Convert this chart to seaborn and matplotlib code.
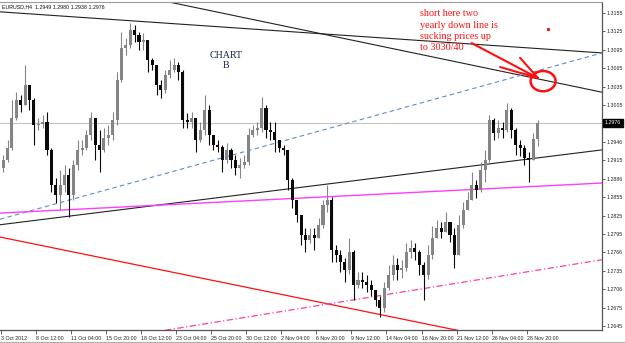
import numpy as np
import pandas as pd
import matplotlib
matplotlib.use("Agg")
import matplotlib.pyplot as plt
import matplotlib.transforms as mtransforms
from matplotlib.patches import Ellipse
from matplotlib.lines import Line2D
import seaborn as sns

# ---------------- data ----------------
header = "EURUSD,H4  1.2949 1.2980 1.2938 1.2976"
first_open = 1.2902
closes = [1.2915, 1.2935, 1.2984, 1.3013, 1.3005, 1.3038, 1.3013, 1.2972, 1.2974, 1.2977,
          1.2932, 1.2875, 1.2858, 1.2875, 1.2891, 1.2858, 1.2907, 1.2932, 1.2935, 1.2956,
          1.2984, 1.2940, 1.2932, 1.2951, 1.2956, 1.2981, 1.3046, 1.3098, 1.3103, 1.3127,
          1.3119, 1.3108, 1.3111, 1.3078, 1.3070, 1.3038, 1.3030, 1.3054, 1.3062, 1.3070,
          1.3059, 1.2981, 1.2977, 1.2984, 1.2948, 1.2964, 1.2997, 1.2956, 1.2940, 1.2936,
          1.2915, 1.2932, 1.2915, 1.2902, 1.2907, 1.2912, 1.2956, 1.2964, 1.2968, 1.3000,
          1.2964, 1.2961, 1.2948, 1.2935, 1.2932, 1.2883, 1.2850, 1.2826, 1.2793, 1.2785,
          1.2793, 1.2788, 1.2810, 1.2842, 1.2850, 1.2769, 1.2761, 1.2749, 1.2736, 1.2766,
          1.2712, 1.2720, 1.2717, 1.2712, 1.2704, 1.2687, 1.2674, 1.2707, 1.2728, 1.2744,
          1.2736, 1.2740, 1.2766, 1.2772, 1.2766, 1.2744, 1.2728, 1.2761, 1.2788, 1.2805,
          1.2798, 1.2815, 1.2793, 1.2761, 1.2810, 1.2834, 1.2850, 1.2875, 1.2867, 1.2899,
          1.2915, 1.2981, 1.2959, 1.2968, 1.2964, 1.2997, 1.2964, 1.2940, 1.2935, 1.2919,
          1.2915, 1.2949, 1.2976]
highs = [1.2924, 1.2948, 1.3013, 1.3026, 1.3021, 1.3070, 1.3033, 1.3016, 1.2984, 1.2989,
         1.2994, 1.2935, 1.2886, 1.2899, 1.2907, 1.2902, 1.2915, 1.2948, 1.2948, 1.2964,
         1.2994, 1.2984, 1.2964, 1.2968, 1.2972, 1.2994, 1.3059, 1.3124, 1.3114, 1.3139,
         1.3135, 1.3124, 1.3122, 1.3111, 1.3082, 1.3070, 1.3046, 1.3062, 1.3078, 1.3082,
         1.3075, 1.3062, 1.2992, 1.2994, 1.2984, 1.2977, 1.3021, 1.3005, 1.2956, 1.2948,
         1.2940, 1.2943, 1.2935, 1.2924, 1.2919, 1.2924, 1.2968, 1.2972, 1.2977, 1.3018,
         1.3005, 1.2977, 1.2977, 1.2948, 1.2940, 1.2932, 1.2886, 1.2850, 1.2826, 1.2805,
         1.2805, 1.2805, 1.2821, 1.2850, 1.2875, 1.2855, 1.2777, 1.2769, 1.2756, 1.2788,
         1.2769, 1.2733, 1.2733, 1.2728, 1.2720, 1.2704, 1.2694, 1.2717, 1.2744, 1.2761,
         1.2756, 1.2753, 1.2780, 1.2785, 1.2780, 1.2769, 1.2749, 1.2777, 1.2808, 1.2818,
         1.2815, 1.2831, 1.2815, 1.2805, 1.2826, 1.2847, 1.2863, 1.2896, 1.2883, 1.2912,
         1.2932, 1.2989, 1.2984, 1.2981, 1.2977, 1.3008, 1.3000, 1.2968, 1.2948, 1.2940,
         1.2928, 1.2959, 1.2980]
lows = [1.2896, 1.2912, 1.2932, 1.2980, 1.2994, 1.3005, 1.2997, 1.2940, 1.2964, 1.2968,
        1.2924, 1.2863, 1.2845, 1.2834, 1.2863, 1.2823, 1.2850, 1.2899, 1.2924, 1.2932,
        1.2948, 1.2915, 1.2896, 1.2928, 1.2940, 1.2948, 1.2972, 1.3043, 1.3087, 1.3098,
        1.3108, 1.3095, 1.3095, 1.3059, 1.3062, 1.3021, 1.3016, 1.3025, 1.3049, 1.3059,
        1.3046, 1.2968, 1.2968, 1.2968, 1.2928, 1.2945, 1.2956, 1.2940, 1.2932, 1.2928,
        1.2896, 1.2910, 1.2902, 1.2891, 1.2886, 1.2902, 1.2907, 1.2953, 1.2956, 1.2961,
        1.2951, 1.2948, 1.2928, 1.2928, 1.2924, 1.2867, 1.2837, 1.2815, 1.2777, 1.2766,
        1.2780, 1.2769, 1.2788, 1.2805, 1.2831, 1.2749, 1.2749, 1.2733, 1.2717, 1.2730,
        1.2687, 1.2707, 1.2707, 1.2700, 1.2694, 1.2678, 1.2660, 1.2668, 1.2704, 1.2720,
        1.2720, 1.2723, 1.2735, 1.2756, 1.2753, 1.2728, 1.2687, 1.2722, 1.2755, 1.2788,
        1.2788, 1.2798, 1.2782, 1.2740, 1.2761, 1.2805, 1.2834, 1.2850, 1.2854, 1.2863,
        1.2880, 1.2912, 1.2948, 1.2951, 1.2951, 1.2961, 1.2951, 1.2924, 1.2922, 1.2907,
        1.2880, 1.2915, 1.2938]

date_labels = ["3 Oct 2012", "8 Oct 12:00", "11 Oct 04:00", "15 Oct 20:00", "18 Oct 12:00",
               "23 Oct 04:00", "25 Oct 20:00", "30 Oct 12:00", "2 Nov 04:00", "6 Nov 20:00",
               "9 Nov 12:00", "14 Nov 04:00", "16 Nov 20:00", "21 Nov 12:00", "26 Nov 04:00",
               "28 Nov 20:00"]
bars_per_label = 16          # H4 bars between date labels
bars_per_candle = 2          # each drawn candle spans two H4 bars

price_labels = ["1.3155", "1.3125", "1.3095", "1.3065", "1.3035", "1.3005", "1.2946",
                "1.2915", "1.2886", "1.2855", "1.2825", "1.2795", "1.2766", "1.2735",
                "1.2706", "1.2675", "1.2645"]
price_label_slots = [0, 1, 2, 3, 4, 5, 7, 8, 9, 10, 11, 12, 13, 14, 15, 16, 17]
price_top, price_step = 1.3155, 0.0030
current_price = 1.2976
current_label = "1.2976"

# trend lines: (bar0, price0) -> (bar1, price1)
tl_name = ["yearly1", "yearly2", "blue", "support", "magenta", "red", "pink"]
tl_x0 = [-0.5, 72.6, -0.5, -0.5, -0.5, -0.5, 74.9]
tl_p0 = [1.3157, 1.3176, 1.2819, 1.2810, 1.2829, 1.2790, 1.2638]
tl_x1 = [274.4, 274.4, 274.4, 274.4, 274.4, 274.4, 274.4]
tl_p1 = [1.3090, 1.3026, 1.3090, 1.2932, 1.2878, 1.2590, 1.2753]
tl_color = ["#222222", "#222222", "#5b8fc7", "#222222", "#ff3cff", "#ff1010", "#ff3fa0"]
tl_style = ["-", "-", (0, (4, 3)), "-", "-", "-", (0, (5, 2, 1, 2))]
tl_width = [0.8, 0.8, 0.8, 0.8, 1.0, 0.9, 0.9]

note_text = "short here two\nyearly down line is\nsucking prices up\nto 3030/40"
note_pos = (191.3, 1.3161)
chart_text = "CHART\nB"
chart_pos = (102.7, 1.3077)
arrow_tail_x = [214.9, 237.0, 227.9]
arrow_tail_p = [1.3106, 1.3082, 1.3067]
arrow_head = (245.2, 1.3049)
circle_center = (247.5, 1.3044)
circle_size = (11.4, 0.0033)
red_dot = (249.8, 1.3129)

# ---------------- figure ----------------
sns.set_theme(style="white")
plt.rcParams['font.family'] = ['Liberation Sans', 'DejaVu Sans']

W, H = 625, 343
fig = plt.figure(figsize=(W / 100, H / 100), dpi=100)
ax = fig.add_axes([0, 1 - 330 / H, 602 / W, 328 / H])
ax.set_facecolor("white")

n = len(closes)
df = pd.DataFrame({
    "bar": bars_per_candle * np.arange(n) + 1,
    "open": [first_open] + closes[:-1],
    "high": highs, "low": lows, "close": closes,
})
df["up"] = df["close"] >= df["open"]
colors = np.where(df["up"], "#858585", "#0a0a0a")

# trend lines (drawn first, behind candles)
for i in range(len(tl_name)):
    sns.lineplot(x=[tl_x0[i], tl_x1[i]], y=[tl_p0[i], tl_p1[i]], ax=ax,
                 color=tl_color[i], linestyle=tl_style[i], linewidth=tl_width[i],
                 zorder=2, estimator=None, sort=False)

# current price line
ax.axhline(current_price, color="#c4c4c4", lw=0.8, zorder=1)

# candles
ax.vlines(df["bar"], df["low"], df["high"], colors=colors, lw=0.8, zorder=3)
body = (df["close"] - df["open"]).abs().clip(lower=0.00008)
ax.bar(df["bar"], body, bottom=np.minimum(df["open"], df["close"]), width=1.4,
       color=colors, linewidth=0, zorder=4)

# annotations
for tx, tp in zip(arrow_tail_x, arrow_tail_p):
    ax.plot([tx, arrow_head[0]], [tp, arrow_head[1]], color="#ff1010", lw=1.5, zorder=6,
            solid_capstyle="round")
ax.add_patch(Ellipse(circle_center, circle_size[0], circle_size[1], fill=False,
                     ec="#ff1010", lw=1.8, zorder=6))
ax.plot([red_dot[0]], [red_dot[1]], marker="s", ms=1.2, color="#ff1010", zorder=6)
ax.text(note_pos[0], note_pos[1], note_text, color="#ff1010", fontsize=7.3,
        family=["Liberation Serif", "DejaVu Serif"], va="top", ha="left",
        linespacing=1.32, zorder=7)
ax.text(chart_pos[0], chart_pos[1], chart_text, color="#14204a", fontsize=7.2,
        family=["Liberation Serif", "DejaVu Serif"], va="center", ha="center",
        linespacing=1.15, zorder=7)

# axes limits
ax.set_xlim(-0.46, 274.4)
ax.set_ylim(1.26385, 1.3173)

# y axis on the right
ax.yaxis.tick_right()
ax.set_yticks([price_top - price_step * s for s in price_label_slots])
ax.set_yticklabels(price_labels)
ax.tick_params(axis="y", right=True, left=False, length=2, width=0.5, pad=1,
               labelsize=3.8, direction="out", colors="#222222")

# x axis
ax.set_xticks(np.arange(len(date_labels)) * bars_per_label)
ax.set_xticklabels(date_labels)
for lbl in ax.get_xticklabels():
    lbl.set_horizontalalignment("left")
ax.tick_params(axis="x", bottom=True, length=3, width=0.5, pad=1,
               labelsize=3.8, direction="out", colors="#222222")

ax.spines["left"].set_visible(False)
ax.spines["top"].set_color("#9a9a9a")
ax.spines["top"].set_linewidth(0.8)
ax.spines["right"].set_color("#555555")
ax.spines["right"].set_linewidth(0.9)
ax.spines["bottom"].set_color("#555555")
ax.spines["bottom"].set_linewidth(0.9)

# current price box on right axis
trans = mtransforms.blended_transform_factory(ax.transAxes, ax.transData)
ax.text(1.0 + 3 / 602, current_price, current_label, transform=trans, color="white",
        fontsize=3.8, va="center", ha="left", clip_on=False, zorder=10,
        bbox=dict(boxstyle="square,pad=0.35", fc="black", ec="black"))

# header
fig.text(2 / W, 1 - 6.5 / H, header, fontsize=3.8, va="center", ha="left", color="#111111")

# bottom tab strip
fig.add_artist(Line2D([0, 1], [1.2 / H, 1.2 / H], color="#b0b0b0", lw=0.8))

fig.savefig("out.png", dpi=100)
